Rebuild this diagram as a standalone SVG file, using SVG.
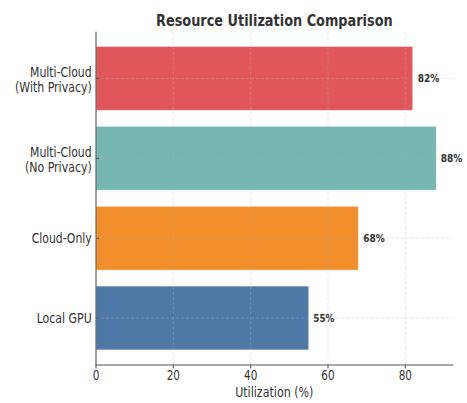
<svg xmlns="http://www.w3.org/2000/svg" width="467" height="403" viewBox="0 0 467 403">
  <style>
    .lbl { font-family: "DejaVu Sans", "Liberation Sans", sans-serif; font-size: 14px; fill: #333333; }
    .tick { font-family: "DejaVu Sans", "Liberation Sans", sans-serif; font-size: 14px; fill: #333333; text-anchor: middle; }
    .val { font-family: "DejaVu Sans", "Liberation Sans", sans-serif; font-size: 11px; font-weight: bold; fill: #333333; }
    .title { font-family: "DejaVu Sans", "Liberation Sans", sans-serif; font-size: 16px; font-weight: bold; fill: #333333; }
    .grid { stroke: #b0b0b0; stroke-width: 0.8; stroke-dasharray: 3 2; opacity: 0.4; }
    .spine { stroke: #555555; stroke-width: 1.1; }
    .bar { stroke: #ffffff; stroke-width: 0.8; stroke-opacity: 0.5; }
  </style>
  <rect width="467" height="403" fill="#ffffff"/>

  <text class="title" x="156" y="26" textLength="236.7" lengthAdjust="spacingAndGlyphs">Resource Utilization Comparison</text>

  <!-- bars: 1% = 3.867px, origin x=96 -->
  <g id="bars">
    <g id="bar-multicloud-privacy">
      <rect class="bar" x="96" y="46.5" width="316.7" height="63.8" fill="#E15759"/>
    </g>
    <g id="bar-multicloud-noprivacy">
      <rect class="bar" x="96" y="126.4" width="340.3" height="63.8" fill="#76B7B2"/>
    </g>
    <g id="bar-cloud-only">
      <rect class="bar" x="96" y="206.3" width="262.3" height="63.8" fill="#F28E2B"/>
    </g>
    <g id="bar-local-gpu">
      <rect class="bar" x="96" y="286.1" width="212.7" height="63.8" fill="#4E79A7"/>
    </g>
  </g>

  <!-- dashed grid over the bars -->
  <g id="grid">
    <line class="grid" x1="173.3" y1="31.7" x2="173.3" y2="365"/>
    <line class="grid" x1="250.7" y1="31.7" x2="250.7" y2="365"/>
    <line class="grid" x1="328" y1="31.7" x2="328" y2="365"/>
    <line class="grid" x1="405.3" y1="31.7" x2="405.3" y2="365"/>
    <line class="grid" x1="96" y1="78.4" x2="453.3" y2="78.4"/>
    <line class="grid" x1="96" y1="158.3" x2="453.3" y2="158.3"/>
    <line class="grid" x1="96" y1="238.2" x2="453.3" y2="238.2"/>
    <line class="grid" x1="96" y1="318" x2="453.3" y2="318"/>
  </g>

  <!-- axes -->
  <g id="axes">
    <line class="spine" x1="96" y1="31.7" x2="96" y2="365.5"/>
    <line class="spine" x1="95.5" y1="365" x2="453.3" y2="365"/>
    <g class="spine">
      <line x1="96" y1="365" x2="96" y2="368.5"/>
      <line x1="173.3" y1="365" x2="173.3" y2="368.5"/>
      <line x1="250.7" y1="365" x2="250.7" y2="368.5"/>
      <line x1="328" y1="365" x2="328" y2="368.5"/>
      <line x1="405.3" y1="365" x2="405.3" y2="368.5"/>
      <line x1="96" y1="78.4" x2="99" y2="78.4"/>
      <line x1="96" y1="158.3" x2="99" y2="158.3"/>
      <line x1="96" y1="238.2" x2="99" y2="238.2"/>
      <line x1="96" y1="318" x2="99" y2="318"/>
    </g>
  </g>

  <!-- category labels -->
  <g id="y-labels">
    <text class="lbl" x="30" y="77" textLength="61.7" lengthAdjust="spacingAndGlyphs">Multi-Cloud</text>
    <text class="lbl" x="15" y="92.3" textLength="76.7" lengthAdjust="spacingAndGlyphs">(With Privacy)</text>
    <text class="lbl" x="30" y="156.8" textLength="61.7" lengthAdjust="spacingAndGlyphs">Multi-Cloud</text>
    <text class="lbl" x="25" y="172" textLength="66.7" lengthAdjust="spacingAndGlyphs">(No Privacy)</text>
    <text class="lbl" x="31.7" y="243.3" textLength="60" lengthAdjust="spacingAndGlyphs">Cloud-Only</text>
    <text class="lbl" x="36.7" y="323.2" textLength="55" lengthAdjust="spacingAndGlyphs">Local GPU</text>
  </g>

  <!-- x tick labels -->
  <g id="x-labels">
    <text class="tick" x="96" y="379.5" textLength="6.7" lengthAdjust="spacingAndGlyphs">0</text>
    <text class="tick" x="173.3" y="379.5" textLength="13.3" lengthAdjust="spacingAndGlyphs">20</text>
    <text class="tick" x="250.7" y="379.5" textLength="13.3" lengthAdjust="spacingAndGlyphs">40</text>
    <text class="tick" x="328" y="379.5" textLength="13.3" lengthAdjust="spacingAndGlyphs">60</text>
    <text class="tick" x="405.3" y="379.5" textLength="13.3" lengthAdjust="spacingAndGlyphs">80</text>
    <text class="tick" x="274.3" y="396.5" textLength="78.3" lengthAdjust="spacingAndGlyphs">Utilization (%)</text>
  </g>

  <!-- value labels -->
  <g id="values">
    <text class="val" x="417.7" y="82.3" textLength="21.6" lengthAdjust="spacingAndGlyphs">82%</text>
    <text class="val" x="440.7" y="162.2" textLength="21.6" lengthAdjust="spacingAndGlyphs">88%</text>
    <text class="val" x="363.3" y="242.2" textLength="21.6" lengthAdjust="spacingAndGlyphs">68%</text>
    <text class="val" x="313.3" y="322.1" textLength="21" lengthAdjust="spacingAndGlyphs">55%</text>
  </g>
</svg>
